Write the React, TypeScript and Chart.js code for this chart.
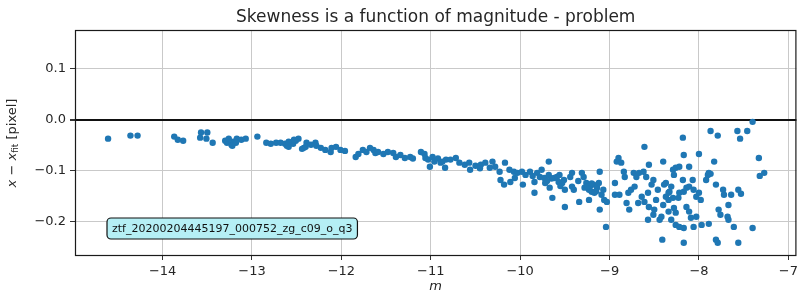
import React, { useEffect, useRef } from "react";
import { Chart, registerables } from "chart.js";

Chart.register(...registerables);

const TITLE = "Skewness is a function of magnitude - problem";
const X_LABEL = "m";
const ANNOTATION = "ztf_20200204445197_000752_zg_c09_o_q3";
const X_TICKS = [-14, -13, -12, -11, -10, -9, -8, -7];
const Y_TICKS = [-0.2, -0.1, 0.0, 0.1];

// magnitude m
const M = [
  -14.61, -14.36, -14.28, -13.87, -13.83, -13.77, -13.57, -13.5, -13.58, -13.51,
  -13.44, -13.3, -13.28, -13.23, -13.21, -13.17, -13.12, -13.07, -13.26, -13.18,
  -13.22, -12.94, -12.84, -12.79, -12.73, -12.68, -12.63, -12.61, -12.54, -12.59,
  -12.51, -12.48, -12.42, -12.39, -12.29, -12.59, -12.53, -12.44, -12.4, -12.34,
  -12.28, -12.23, -12.18, -12.12, -12.11, -12.06, -12.01, -11.96, -11.84, -11.81,
  -11.76, -11.72, -11.68, -11.64, -11.62, -11.59, -11.53, -11.48, -11.42, -11.39,
  -11.34, -11.29, -11.23, -11.2, -11.11, -11.07, -11.06, -11.03, -11.01, -10.98,
  -10.96, -10.92, -10.89, -10.84, -10.83, -10.87, -10.78, -10.72, -10.68, -10.62,
  -10.57, -10.56, -10.5, -10.44, -10.39, -10.34, -10.31, -10.28, -10.23, -10.22,
  -10.18, -10.17, -10.12, -10.11, -10.07, -10.06, -10.03, -9.98, -9.97, -9.94,
  -9.89, -9.84, -9.84, -9.81, -9.78, -9.76, -9.73, -9.72, -9.68, -9.68,
  -9.67, -9.64, -9.62, -9.59, -9.57, -9.56, -9.51, -9.53, -9.5, -9.5,
  -9.44, -9.42, -9.42, -9.4, -9.34, -9.31, -9.29, -9.26, -9.28, -9.23,
  -9.23, -9.22, -9.2, -9.18, -9.17, -9.14, -9.12, -9.11, -9.11, -9.09,
  -9.07, -9.06, -9.03, -9.04, -8.94, -8.94, -8.92, -8.9, -8.87, -8.89,
  -8.84, -8.83, -8.81, -8.79, -8.78, -8.76, -8.73, -8.72, -8.7, -8.68,
  -8.67, -8.64, -8.62, -8.61, -8.61, -8.59, -8.57, -8.56, -8.56, -8.53,
  -8.51, -8.5, -8.48, -8.46, -8.44, -8.42, -8.4, -8.4, -8.39, -8.37,
  -8.34, -8.33, -8.41, -8.29, -8.29, -8.31, -8.57, -8.51, -8.18, -8.17,
  -8.11, -8.0, -7.83, -7.87, -7.79, -7.57, -7.54, -7.46, -7.4, -7.33,
  -7.32, -7.27, -8.26, -8.22, -8.28, -8.18, -8.31, -8.34, -8.23, -8.22,
  -8.17, -8.14, -8.11, -8.07, -8.06, -8.03, -8.0, -7.98, -7.92, -7.9,
  -7.89, -7.87, -7.81, -7.73, -7.72, -7.64, -7.56, -7.53, -7.67, -7.78,
  -7.76, -7.68, -7.67, -7.61, -8.26, -8.22, -8.17, -8.06, -7.97, -7.89,
  -8.11, -8.09, -8.03, -8.14, -8.28, -8.26, -7.4, -7.81, -7.79, -7.56,
  -8.17, -8.37, -8.34, -9.65, -9.55, -9.35, -9.25, -9.15, -9.2, -10.45,
  -9.7, -9.86,
];

// x - x_fit [pixel]
const DX = [
  -0.037, -0.031, -0.031, -0.033, -0.039, -0.041, -0.025, -0.025, -0.035, -0.037,
  -0.045, -0.041, -0.045, -0.049, -0.043, -0.037, -0.039, -0.037, -0.037, -0.045,
  -0.051, -0.033, -0.045, -0.047, -0.045, -0.045, -0.047, -0.051, -0.047, -0.053,
  -0.041, -0.037, -0.055, -0.045, -0.045, -0.043, -0.039, -0.057, -0.053, -0.049,
  -0.051, -0.055, -0.059, -0.063, -0.055, -0.053, -0.059, -0.061, -0.073, -0.067,
  -0.059, -0.063, -0.055, -0.059, -0.065, -0.063, -0.067, -0.063, -0.065, -0.073,
  -0.069, -0.075, -0.073, -0.076, -0.063, -0.067, -0.075, -0.078, -0.092, -0.073,
  -0.082, -0.076, -0.084, -0.094, -0.078, -0.082, -0.078, -0.075, -0.084, -0.088,
  -0.084, -0.098, -0.09, -0.088, -0.084, -0.094, -0.082, -0.092, -0.102, -0.118,
  -0.127, -0.084, -0.098, -0.122, -0.102, -0.114, -0.104, -0.102, -0.127, -0.108,
  -0.102, -0.122, -0.143, -0.104, -0.112, -0.098, -0.114, -0.124, -0.082, -0.108,
  -0.133, -0.153, -0.114, -0.112, -0.122, -0.108, -0.118, -0.124, -0.137, -0.171,
  -0.112, -0.104, -0.131, -0.137, -0.161, -0.104, -0.112, -0.124, -0.133, -0.137,
  -0.157, -0.131, -0.141, -0.127, -0.143, -0.133, -0.124, -0.102, -0.176, -0.147,
  -0.137, -0.157, -0.161, -0.21, -0.124, -0.147, -0.082, -0.075, -0.084, -0.147,
  -0.102, -0.112, -0.163, -0.143, -0.176, -0.137, -0.104, -0.131, -0.112, -0.163,
  -0.104, -0.151, -0.102, -0.161, -0.053, -0.112, -0.143, -0.171, -0.088, -0.127,
  -0.118, -0.176, -0.157, -0.137, -0.196, -0.19, -0.082, -0.167, -0.127, -0.151,
  -0.18, -0.141, -0.235, -0.098, -0.153, -0.196, -0.196, -0.186, -0.035, -0.069,
  -0.092, -0.067, -0.082, -0.022, -0.031, -0.022, -0.037, -0.022, -0.004, -0.075,
  -0.11, -0.104, -0.094, -0.092, -0.108, -0.118, -0.131, -0.143, -0.153, -0.143,
  -0.141, -0.133, -0.131, -0.118, -0.137, -0.151, -0.143, -0.157, -0.118, -0.108,
  -0.104, -0.106, -0.127, -0.137, -0.147, -0.147, -0.137, -0.145, -0.167, -0.176,
  -0.186, -0.19, -0.196, -0.21, -0.206, -0.21, -0.212, -0.21, -0.206, -0.204,
  -0.18, -0.192, -0.19, -0.171, -0.173, -0.182, -0.212, -0.235, -0.241, -0.241,
  -0.241, -0.124, -0.157, -0.115, -0.13, -0.12, -0.13, -0.14, -0.125, -0.095,
  -0.12, -0.11,
];

const FONT = "'DejaVu Sans', 'Liberation Sans', sans-serif";
const TEXT_COLOR = "#262626";

const fmtMinus = (s: string) => s.replace("-", "\u2212");

const framePlugin = {
  id: "frameAndLabels",
  afterDraw(chart: any) {
    const { ctx, chartArea } = chart;
    const { left, right, top, bottom } = chartArea;
    ctx.save();
    // spines
    ctx.strokeStyle = "#1a1a1a";
    ctx.lineWidth = 1.2;
    ctx.strokeRect(left + 0.5, top + 0.5, right - left - 1, bottom - top - 1);

    // y-axis label with subscript
    const cy = (top + bottom) / 2;
    ctx.translate(13, cy);
    ctx.rotate(-Math.PI / 2);
    ctx.fillStyle = TEXT_COLOR;
    ctx.textBaseline = "middle";
    const parts = [
      { t: "x", f: `italic 13px ${FONT}`, dy: 0 },
      { t: " \u2212 ", f: `13px ${FONT}`, dy: 0 },
      { t: "x", f: `italic 13px ${FONT}`, dy: 0 },
      { t: "fit", f: `9px ${FONT}`, dy: 3 },
      { t: " [pixel]", f: `13px ${FONT}`, dy: 0 },
    ];
    let total = 0;
    for (const p of parts) {
      ctx.font = p.f;
      total += ctx.measureText(p.t).width;
    }
    let x = -total / 2;
    ctx.textAlign = "left";
    for (const p of parts) {
      ctx.font = p.f;
      ctx.fillText(p.t, x, p.dy);
      x += ctx.measureText(p.t).width;
    }
    ctx.restore();

    // annotation box
    ctx.save();
    ctx.font = `11px ${FONT}`;
    const tw = ctx.measureText(ANNOTATION).width;
    const bx = left + 32;
    const by = bottom - 38;
    const bw = tw + 10;
    const bh = 21;
    const r = 4;
    ctx.beginPath();
    ctx.moveTo(bx + r, by);
    ctx.lineTo(bx + bw - r, by);
    ctx.arcTo(bx + bw, by, bx + bw, by + r, r);
    ctx.lineTo(bx + bw, by + bh - r);
    ctx.arcTo(bx + bw, by + bh, bx + bw - r, by + bh, r);
    ctx.lineTo(bx + r, by + bh);
    ctx.arcTo(bx, by + bh, bx, by + bh - r, r);
    ctx.lineTo(bx, by + r);
    ctx.arcTo(bx, by, bx + r, by, r);
    ctx.closePath();
    ctx.fillStyle = "#b5eff5";
    ctx.fill();
    ctx.strokeStyle = "#111";
    ctx.lineWidth = 1.2;
    ctx.stroke();
    ctx.fillStyle = "#111";
    ctx.textBaseline = "middle";
    ctx.textAlign = "left";
    ctx.fillText(ANNOTATION, bx + 5, by + bh / 2 + 0.5);
    ctx.restore();
  },
};

export default function App() {
  const ref = useRef<HTMLCanvasElement | null>(null);

  useEffect(() => {
    if (!ref.current) return;
    const points = M.map((m, i) => ({ x: m, y: DX[i] }));
    const chart = new Chart(ref.current, {
      type: "scatter",
      data: {
        datasets: [
          {
            data: points,
            backgroundColor: "#1f77b4",
            borderWidth: 0,
            pointRadius: 3.2,
            pointHoverRadius: 3.2,
          },
        ],
      },
      options: {
        animation: false,
        responsive: false,
        maintainAspectRatio: false,
        layout: { padding: { left: 0, right: 1, top: 0, bottom: 0 } },
        plugins: {
          legend: { display: false },
          tooltip: { enabled: false },
          title: {
            display: true,
            fullSize: false,
            text: TITLE,
            color: TEXT_COLOR,
            font: { family: FONT, size: 17, weight: "normal" },
            padding: { top: 7, bottom: 2.6 },
          },
        },
        scales: {
          x: {
            type: "linear",
            min: -14.98,
            max: -6.91,
            afterFit: (s: any) => {
              s.height = 40;
            },
            afterBuildTicks: (s: any) => {
              s.ticks = X_TICKS.map((v) => ({ value: v }));
            },
            border: { display: false },
            grid: {
              color: "#c9c9c9",
              lineWidth: 1,
              drawTicks: true,
              tickLength: 4,
              tickColor: "#333",
            },
            ticks: {
              color: TEXT_COLOR,
              font: { family: FONT, size: 13 },
              padding: 4,
              maxRotation: 0,
              autoSkip: false,
              callback: (v: any) => fmtMinus(String(Math.round(Number(v)))),
            },
            title: {
              display: true,
              text: X_LABEL,
              color: TEXT_COLOR,
              font: { family: FONT, size: 13, style: "italic" },
              padding: { top: 0, bottom: 2 },
            },
          },
          y: {
            type: "linear",
            min: -0.267,
            max: 0.176,
            afterFit: (s: any) => {
              s.width = 75;
            },
            afterBuildTicks: (s: any) => {
              s.ticks = Y_TICKS.map((v) => ({ value: v }));
            },
            border: { display: false },
            grid: {
              color: (c: any) =>
                c.tick && Math.abs(c.tick.value) < 1e-9 ? "#111" : "#c9c9c9",
              lineWidth: (c: any) =>
                c.tick && Math.abs(c.tick.value) < 1e-9 ? 2 : 1,
              drawTicks: true,
              tickLength: 5,
              tickColor: "#333",
            },
            ticks: {
              color: TEXT_COLOR,
              font: { family: FONT, size: 13 },
              padding: 4,
              autoSkip: false,
              callback: (v: any) => {
                const n = Number(v);
                const s = Math.abs(n) < 1e-9 ? "0.0" : n.toFixed(1);
                return fmtMinus(s);
              },
            },
          },
        },
      },
      plugins: [framePlugin],
    } as any);
    return () => chart.destroy();
  }, []);

  return (
    <div style={{ position: "absolute", left: 0, top: 0, width: 802, height: 296 }}>
      <canvas ref={ref} width={802} height={296} style={{ width: 802, height: 296 }} />
    </div>
  );
}
